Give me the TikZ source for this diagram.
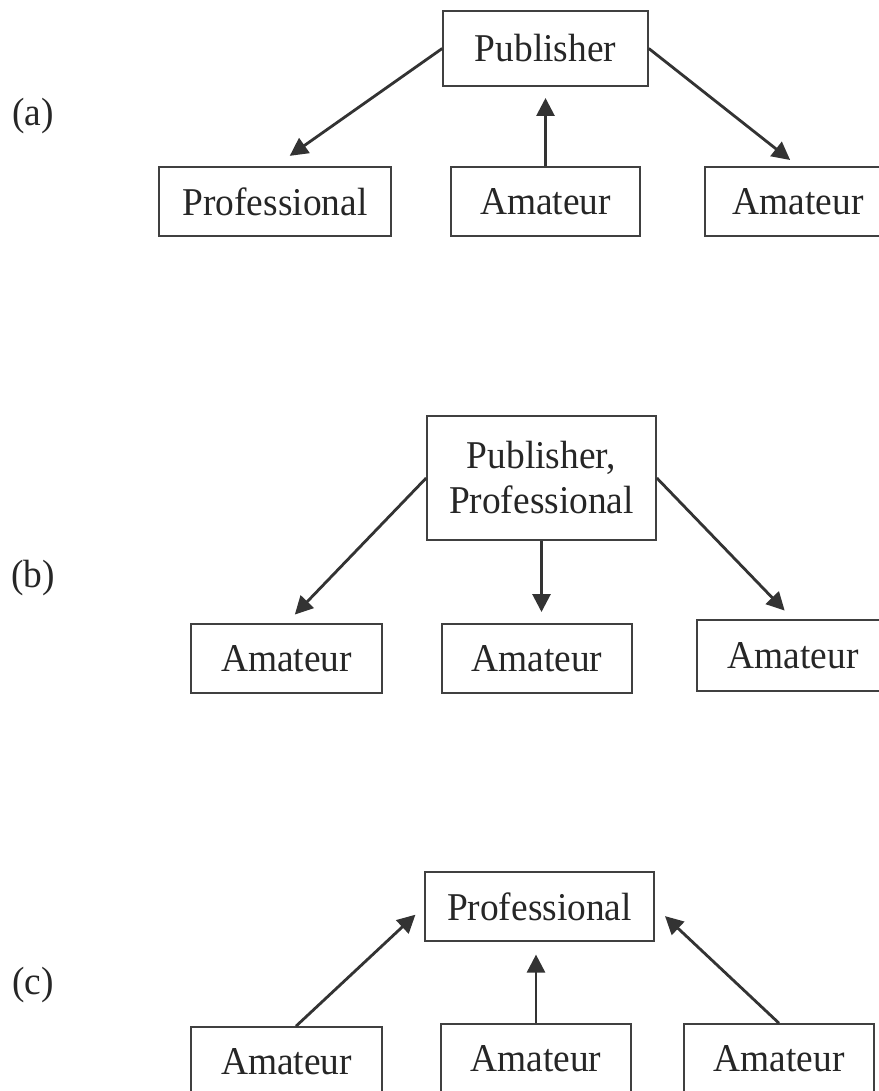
\documentclass[tikz,border=0pt]{standalone}
\usepackage{fontspec}
\setmainfont[FakeStretch=0.95]{Liberation Serif}
\usepackage{tikz}
\usetikzlibrary{arrows.meta}
\usetikzlibrary{positioning}

\begin{document}
\begin{tikzpicture}[x=0.025cm,y=-0.025cm]
\tikzstyle{box}=[draw=black!75,line width=1.1pt,text=black!85,inner sep=0pt,minimum height=1.725cm,font=\fontsize{28}{32}\selectfont,align=center]
\tikzstyle{tag}=[text=black!85,font=\fontsize{28}{32}\selectfont]
\tikzstyle{arr}=[draw=black!80,line width=2pt,-{Triangle[length=0.45cm,width=0.45cm]}]
\useasboundingbox (0,0) rectangle (879,1091);

\node[tag] (lblA) at (33,116) {(a)};
\node[box,minimum width=5.125cm,minimum height=1.875cm] (pubA) at (545.5,48.5) {Publisher};
\node[box,minimum width=5.8cm] (proA) at (275,201.5) {Professional};
\node[box,minimum width=4.725cm] (amA1) at (545.5,201.5) {Amateur};
\node[box,minimum width=4.65cm] (amA2) at (798,201.5) {Amateur};
\draw[arr,shorten >=0.45cm] (pubA.west) -- (proA.north);
\draw[arr,shorten >=0.28cm] (amA1.north) -- (pubA.south);
\draw[arr,shorten >=0.25cm] (pubA.east) -- (amA2.north);

\node[tag] (lblB) at (33,578) {(b)};
\node[box,minimum width=5.725cm,minimum height=3.1cm] (pubB) at (541.5,478) {Publisher,\\Professional};
\node[box,minimum width=4.775cm] (amB1) at (286.5,658.5) {Amateur};
\node[box,minimum width=4.75cm] (amB2) at (537,658.5) {Amateur};
\node[box,minimum width=4.8cm,minimum height=1.775cm] (amB3) at (793,655.5) {Amateur};
\draw[arr,shorten >=0.3cm] (pubB.west) -- (amB1.north);
\draw[arr,shorten >=0.28cm] (pubB.south) -- (pubB.south |- amB2.north);
\draw[arr,shorten >=0.3cm] (pubB.east) -- (amB3.north);

\node[tag] (lblC) at (33,985) {(c)};
\node[box,minimum width=5.725cm] (proC) at (539.5,906.5) {Professional};
\node[box,minimum width=4.775cm] (amC1) at (286.5,1061.5) {Amateur};
\node[box,minimum width=4.75cm] (amC2) at (536,1058.5) {Amateur};
\node[box,minimum width=4.75cm] (amC3) at (779,1058.5) {Amateur};
\draw[arr,shorten >=0.3cm] (amC1.75) -- (proC.west);
\draw[arr,shorten >=0.32cm] (amC2.north) -- (amC2.north |- proC.south);
\draw[arr,shorten >=0.35cm] (amC3.north) -- (proC.east);
\end{tikzpicture}
\end{document}
